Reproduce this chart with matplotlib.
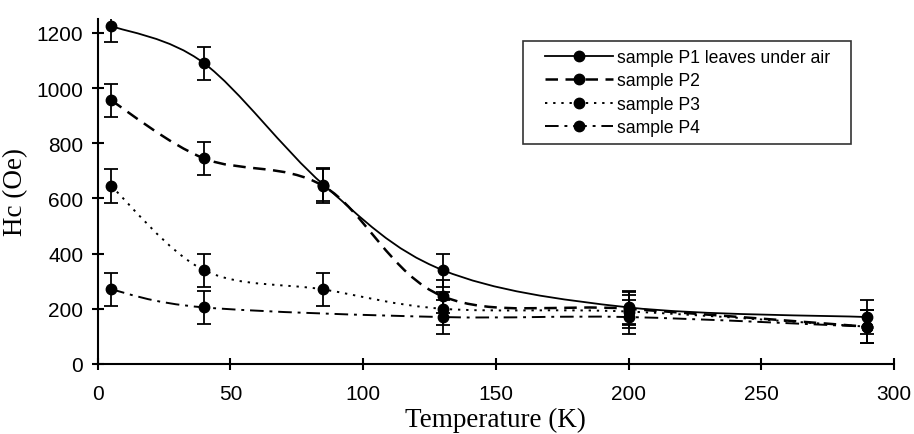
import numpy as np
import matplotlib
matplotlib.use("Agg")
import matplotlib.pyplot as plt
from matplotlib.path import Path
from matplotlib.patches import PathPatch
from matplotlib.lines import Line2D
from matplotlib.legend_handler import HandlerLine2D

temps = [5, 40, 85, 130, 200, 290]
p1 = [1225, 1090, 650, 340, 205, 170]
p2 = [955, 745, 645, 245, 200, 135]
p3 = [645, 340, 270, 200, 190, 135]
p4_t = [5, 40, 130, 200, 290]
p4 = [270, 205, 170, 170, 135]
err = 60
labels = ["sample P1 leaves under air", "sample P2", "sample P3", "sample P4"]

plt.rcParams['font.family'] = ['Liberation Sans', 'DejaVu Sans']
fig = plt.figure(figsize=(9.14, 4.35), dpi=100)
ax = fig.add_axes([0.107, 0.161, 0.871, 0.793])

def smooth_path(x, y):
    x = np.asarray(x, float); y = np.asarray(y, float)
    verts = [(x[0], y[0])]
    codes = [Path.MOVETO]
    n = len(x)
    for i in range(n - 1):
        xm, ym = (x[i-1], y[i-1]) if i > 0 else (x[i], y[i])
        xp, yp = (x[i+2], y[i+2]) if i + 2 < n else (x[i+1], y[i+1])
        c1 = (x[i] + (x[i+1] - xm) / 6, y[i] + (y[i+1] - ym) / 6)
        c2 = (x[i+1] - (xp - x[i]) / 6, y[i+1] - (yp - y[i]) / 6)
        verts += [c1, c2, (x[i+1], y[i+1])]
        codes += [Path.CURVE4] * 3
    return Path(verts, codes)

styles = [
    dict(ls='-', lw=1.3),
    dict(ls=(0, (5, 3)), lw=1.8),
    dict(ls=(0, (1.2, 3)), lw=1.4),
    dict(ls=(0, (7, 3, 1.5, 3)), lw=1.4),
]
series = [(temps, p1), (temps, p2), (temps, p3), (p4_t, p4)]
handles = []
for (xs, ys), st, lab in zip(series, styles, labels):
    patch = PathPatch(smooth_path(xs, ys), fill=False, edgecolor='black',
                      linestyle=st['ls'], linewidth=st['lw'], zorder=2)
    ax.add_patch(patch)
    ax.errorbar(xs, ys, yerr=err, fmt='o', color='black', ms=7.5,
                capsize=5, elinewidth=1.3, capthick=1.3, zorder=3)
    handles.append(Line2D([], [], color='black', ls=st['ls'], lw=st['lw'],
                          marker='o', ms=7.5))

ax.set_xlim(0, 300)
ax.set_ylim(0, 1250)
ax.set_xticks(np.arange(0, 301, 50))
ax.set_yticks(np.arange(0, 1201, 200))
for s in ['top', 'right']:
    ax.spines[s].set_visible(False)
for s in ['left', 'bottom']:
    ax.spines[s].set_linewidth(1.5)
ax.tick_params(direction='inout', length=9, width=1.5, labelsize=15)
ax.tick_params(axis='x', pad=10)
ax.tick_params(axis='y', pad=6)
ax.set_xlabel("Temperature (K)", family=['Liberation Serif'], fontsize=19.5, labelpad=3)
ax.set_ylabel("Hc (Oe)", family=['Liberation Serif'], fontsize=19.5, labelpad=6)

leg = ax.legend(handles, labels, loc='upper left',
                bbox_to_anchor=(0.534, 0.5, 0.412, 0.436), mode='expand',
                borderaxespad=0,
                handler_map={Line2D: HandlerLine2D(xpad=0.8)},
                fontsize=12.7, frameon=True, fancybox=False, edgecolor='black',
                handlelength=4.66, handletextpad=0.25, borderpad=0.45,
                labelspacing=0.36)
leg.get_frame().set_linewidth(1.2)

fig.savefig("out.png", dpi=100)
